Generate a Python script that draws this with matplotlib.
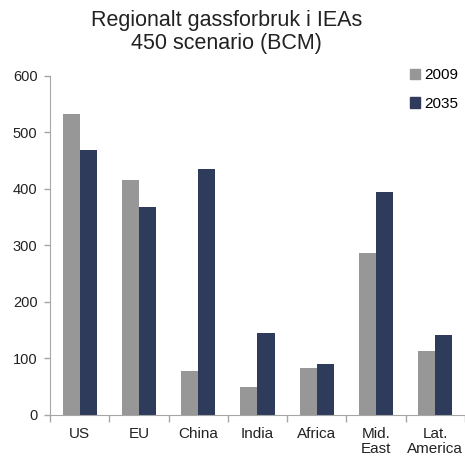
import numpy as np
from matplotlib import pyplot as plt
from matplotlib.patches import Patch

plt.rcParams['font.family'] = ['Liberation Sans', 'DejaVu Sans']

# Data
regions = ["US", "EU", "China", "India", "Africa", "Mid.\nEast", "Lat.\nAmerica"]
gas_2009 = [533, 415, 78, 49, 83, 287, 112]
gas_2035 = [468, 367, 434, 145, 90, 394, 141]
series_labels = ["2009", "2035"]

grey = "#979797"
navy = "#2e3b5b"
axis_col = "#a6a6a6"

fig = plt.figure(figsize=(4.65, 4.61), dpi=100)
ax = fig.add_axes([0.1075, 0.1004, 0.8925, 0.7354])

x = np.arange(len(regions))
w = 0.287
ax.bar(x - w/2, gas_2009, width=w, color=grey)
ax.bar(x + w/2, gas_2035, width=w, color=navy)

ax.set_xlim(-0.5, len(regions) - 0.5)
ax.set_ylim(0, 600)
ax.set_yticks(range(0, 601, 100))

# category labels in the middle, tick marks at the boundaries
ax.set_xticks(x)
ax.set_xticklabels(regions, fontsize=11, color="#222222", linespacing=1.1)
ax.tick_params(axis='x', which='major', length=0, pad=9)
ax.set_xticks(np.arange(-0.5, len(regions) + 0.5, 1), minor=True)
ax.tick_params(axis='x', which='minor', length=5, color=axis_col, width=1)
ax.tick_params(axis='y', length=4, color=axis_col, width=1, labelsize=10.5,
               labelcolor="#222222", pad=5)

for s in ["top", "right"]:
    ax.spines[s].set_visible(False)
ax.spines["left"].set_color(axis_col)
ax.spines["bottom"].set_color(axis_col)

fig.text(0.488, 0.978, "Regionalt gassforbruk i IEAs\n450 scenario (BCM)",
         ha="center", va="top", fontsize=15.5, color="#222222", linespacing=1.1)

handles = [Patch(color=grey), Patch(color=navy)]
fig.legend(handles, series_labels, loc="upper left", bbox_to_anchor=(0.868, 0.865),
           frameon=False, fontsize=11, handlelength=0.65, handleheight=0.65,
           handletextpad=0.3, labelspacing=0.95, borderaxespad=0)

fig.savefig("out.png", dpi=100)
